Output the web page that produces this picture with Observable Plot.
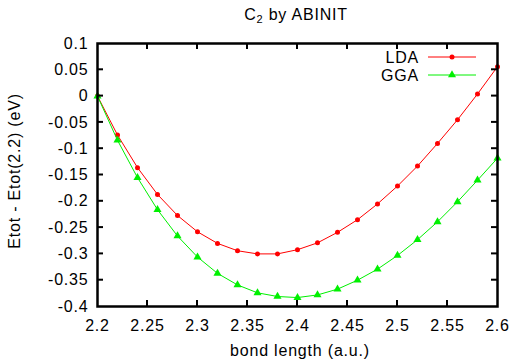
<!DOCTYPE html>
<html><head><meta charset="utf-8">
<script src="https://cdn.jsdelivr.net/npm/d3@7"></script>
<script src="https://cdn.jsdelivr.net/npm/@observablehq/plot@0.6"></script>
<style>body{margin:0;background:#fff}svg{font-family:"Liberation Sans",Arial,sans-serif}svg text{letter-spacing:0.8px}</style>
</head><body><div id="chart"></div>
<script>
const bondLength = [2.20,2.22,2.24,2.26,2.28,2.30,2.32,2.34,2.36,2.38,2.40,2.42,2.44,2.46,2.48,2.50,2.52,2.54,2.56,2.58,2.60];
const lda = [0,-0.074,-0.136,-0.187,-0.227,-0.258,-0.280,-0.294,-0.300,-0.300,-0.292,-0.279,-0.259,-0.235,-0.205,-0.171,-0.133,-0.090,-0.045,0.004,0.056];
const gga = [0,-0.084,-0.155,-0.216,-0.266,-0.306,-0.337,-0.359,-0.374,-0.381,-0.383,-0.378,-0.367,-0.350,-0.329,-0.303,-0.273,-0.239,-0.201,-0.160,-0.118];
const xTicks = [2.2,2.25,2.3,2.35,2.4,2.45,2.5,2.55,2.6];
const yTicks = [0.1,0.05,0,-0.05,-0.1,-0.15,-0.2,-0.25,-0.3,-0.35,-0.4];
const seriesNames = ["LDA","GGA"];
const colors = ["#ff0000","#00f000"];
const titleMain = "C", titleSub = "2", titleRest = " by ABINIT";
const FS = 16;

const ldaData = bondLength.map((x,i)=>({x, y: lda[i]}));
const ggaData = bondLength.map((x,i)=>({x, y: gga[i]}));

const chart = Plot.plot({
  width: 513, height: 360,
  marginLeft: 97, marginRight: 16, marginTop: 43, marginBottom: 54,
  style: {fontSize: FS + "px", fontFamily: "Liberation Sans, Arial, sans-serif", color: "#000", background: "#fff"},
  x: {domain: [2.2, 2.6], ticks: xTicks, tickFormat: d => String(d), label: null},
  y: {domain: [-0.4, 0.1], ticks: yTicks, tickFormat: d => String(d), label: null},
  marks: [
    Plot.axisX({ticks: xTicks, tickSize: 0, tickPadding: 13, tickFormat: d=>String(d), fontSize: FS}),
    Plot.axisY({ticks: yTicks, tickSize: 0, tickPadding: 9, tickFormat: d=>String(d), fontSize: FS}),
    Plot.line(ldaData, {x: "x", y: "y", stroke: colors[0], strokeWidth: 1}),
    Plot.dot(ldaData, {x: "x", y: "y", fill: colors[0], r: 2.5, symbol: "circle"}),
    Plot.line(ggaData, {x: "x", y: "y", stroke: colors[1], strokeWidth: 1}),
    Plot.dot(ggaData, {x: "x", y: "y", fill: colors[1], r: 3, symbol: "triangle"}),
    Plot.frame({stroke: "#000", strokeWidth: 2.5})
  ]
});

const svg = d3.select(chart);
const sx = chart.scale("x"), sy = chart.scale("y");
const pLeft = sx.apply(2.2), pRight = sx.apply(2.6), pTop = sy.apply(0.1), pBottom = sy.apply(-0.4);
const tl = 6;
const g = svg.append("g").attr("stroke", "#000").attr("stroke-width", 2);
xTicks.slice(1,-1).forEach(v => {
  const px = sx.apply(v);
  g.append("line").attr("x1", px).attr("x2", px).attr("y1", pBottom).attr("y2", pBottom - tl);
  g.append("line").attr("x1", px).attr("x2", px).attr("y1", pTop).attr("y2", pTop + tl);
});
yTicks.slice(1,-1).forEach(v => {
  const py = sy.apply(v);
  g.append("line").attr("x1", pLeft).attr("x2", pLeft + tl).attr("y1", py).attr("y2", py);
  g.append("line").attr("x1", pRight).attr("x2", pRight - tl).attr("y1", py).attr("y2", py);
});

// title
const t = svg.append("text").attr("x", 296).attr("y", 19.5).attr("text-anchor", "middle")
  .attr("font-size", FS).attr("fill", "#000");
t.append("tspan").text(titleMain);
t.append("tspan").attr("font-size", 11).attr("dy", 3.5).text(titleSub);
t.append("tspan").attr("dy", -3.5).text(titleRest);

// axis labels
svg.append("text").attr("x", 300).attr("y", 356).attr("text-anchor", "middle")
  .attr("font-size", FS).attr("fill", "#000").text("bond length (a.u.)");
svg.append("text").attr("transform", `translate(19.5,171) rotate(-90)`).attr("text-anchor", "middle")
  .attr("font-size", FS).attr("fill", "#000").text("Etot - Etot(2.2) (eV)");

// legend
seriesNames.forEach((name, i) => {
  const ly = 57 + i * 18;
  svg.append("text").attr("x", 419).attr("y", ly + 5.5).attr("text-anchor", "end").attr("font-size", FS).attr("fill", "#000").text(name);
  svg.append("line").attr("x1", 428).attr("x2", 476).attr("y1", ly).attr("y2", ly).attr("stroke", colors[i]).attr("stroke-width", 1);
  if (i === 0) svg.append("circle").attr("cx", 452).attr("cy", ly).attr("r", 2.5).attr("fill", colors[i]);
  else svg.append("path").attr("transform", `translate(452,${ly})`).attr("d", d3.symbol(d3.symbolTriangle, 28)()).attr("fill", colors[i]);
});

document.getElementById("chart").appendChild(chart);
</script></body></html>
